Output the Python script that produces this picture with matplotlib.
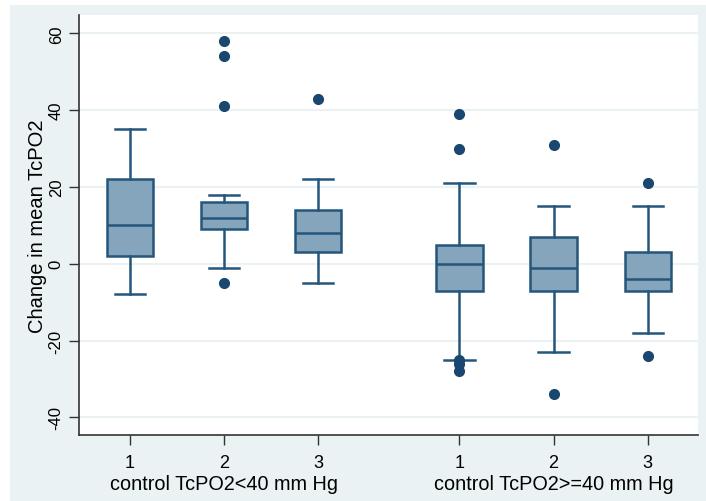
import matplotlib.pyplot as plt
from matplotlib.patches import Rectangle

# box plot summaries (two control groups, three boxes each)
group_names = ["control TcPO2<40 mm Hg", "control TcPO2>=40 mm Hg"]
box_labels = ["1", "2", "3", "1", "2", "3"]
positions = [1, 2, 3, 4.5, 5.5, 6.5]

whislo = [-8, -1, -5, -25, -23, -18]
q1 = [2, 9, 3, -7, -7, -7]
med = [10, 12, 8, 0, -1, -4]
q3 = [22, 16, 14, 5, 7, 3]
whishi = [35, 18, 22, 21, 15, 15]
fliers = [
    [],
    [58, 54, 41, -5],
    [43],
    [39, 30, -25, -26, -28],
    [31, -34],
    [21, -24],
]

navy = "#1a476f"
edge = "#24567c"
fill = "#84a5bb"
bg = "#eaf2f3"

plt.rcParams["font.family"] = ["Liberation Sans", "DejaVu Sans"]

fig = plt.figure(figsize=(7.06, 5.02), dpi=100)
fig.patch.set_facecolor("white")
fig.add_artist(Rectangle((10 / 706, 0), 1, 1 - 6 / 502, transform=fig.transFigure,
                         facecolor=bg, edgecolor="none", zorder=-5))

ax = fig.add_axes([79 / 706, 66 / 502, 619 / 706, 420 / 502])
ax.set_facecolor("white")

stats = []
for i in range(len(positions)):
    stats.append(dict(whislo=whislo[i], q1=q1[i], med=med[i], q3=q3[i],
                      whishi=whishi[i], fliers=fliers[i]))

ax.bxp(stats, positions=positions, widths=0.49, capwidths=0.32,
       patch_artist=True, showfliers=True,
       boxprops=dict(facecolor=fill, edgecolor=edge, linewidth=1.8),
       medianprops=dict(color=edge, linewidth=1.8),
       whiskerprops=dict(color=edge, linewidth=1.8),
       capprops=dict(color=edge, linewidth=1.8),
       flierprops=dict(marker="o", markerfacecolor=navy, markeredgecolor=navy,
                       markersize=7))

ax.set_xlim(0.457, 7.035)
ax.set_ylim(-44.6, 64.8)
ax.set_yticks([-40, -20, 0, 20, 40, 60])
ax.set_yticklabels(["-40", "-20", "0", "20", "40", "60"], rotation=90, va="center")
ax.set_xticks(positions)
ax.set_xticklabels(box_labels)
ax.tick_params(length=7, width=1, color="#333333")
ax.tick_params(axis="y", labelsize=12, pad=4)
ax.tick_params(axis="x", labelsize=13, pad=7)

ax.grid(axis="y", color=bg, linewidth=1.5)
ax.set_axisbelow(True)
for s in ["top", "right"]:
    ax.spines[s].set_visible(False)
for s in ["left", "bottom"]:
    ax.spines[s].set_color("#333333")
    ax.spines[s].set_linewidth(1.2)

ax.set_ylabel("Change in mean TcPO2", fontsize=14.5)
ax.yaxis.set_label_coords(-0.052, 0.5)

# group captions under the middle box of each group
for name, x in zip(group_names, [2, 5.5]):
    ax.text(x, -0.115, name, transform=ax.get_xaxis_transform(),
            ha="center", va="center", fontsize=14.3)

fig.savefig("out.png", dpi=100)
